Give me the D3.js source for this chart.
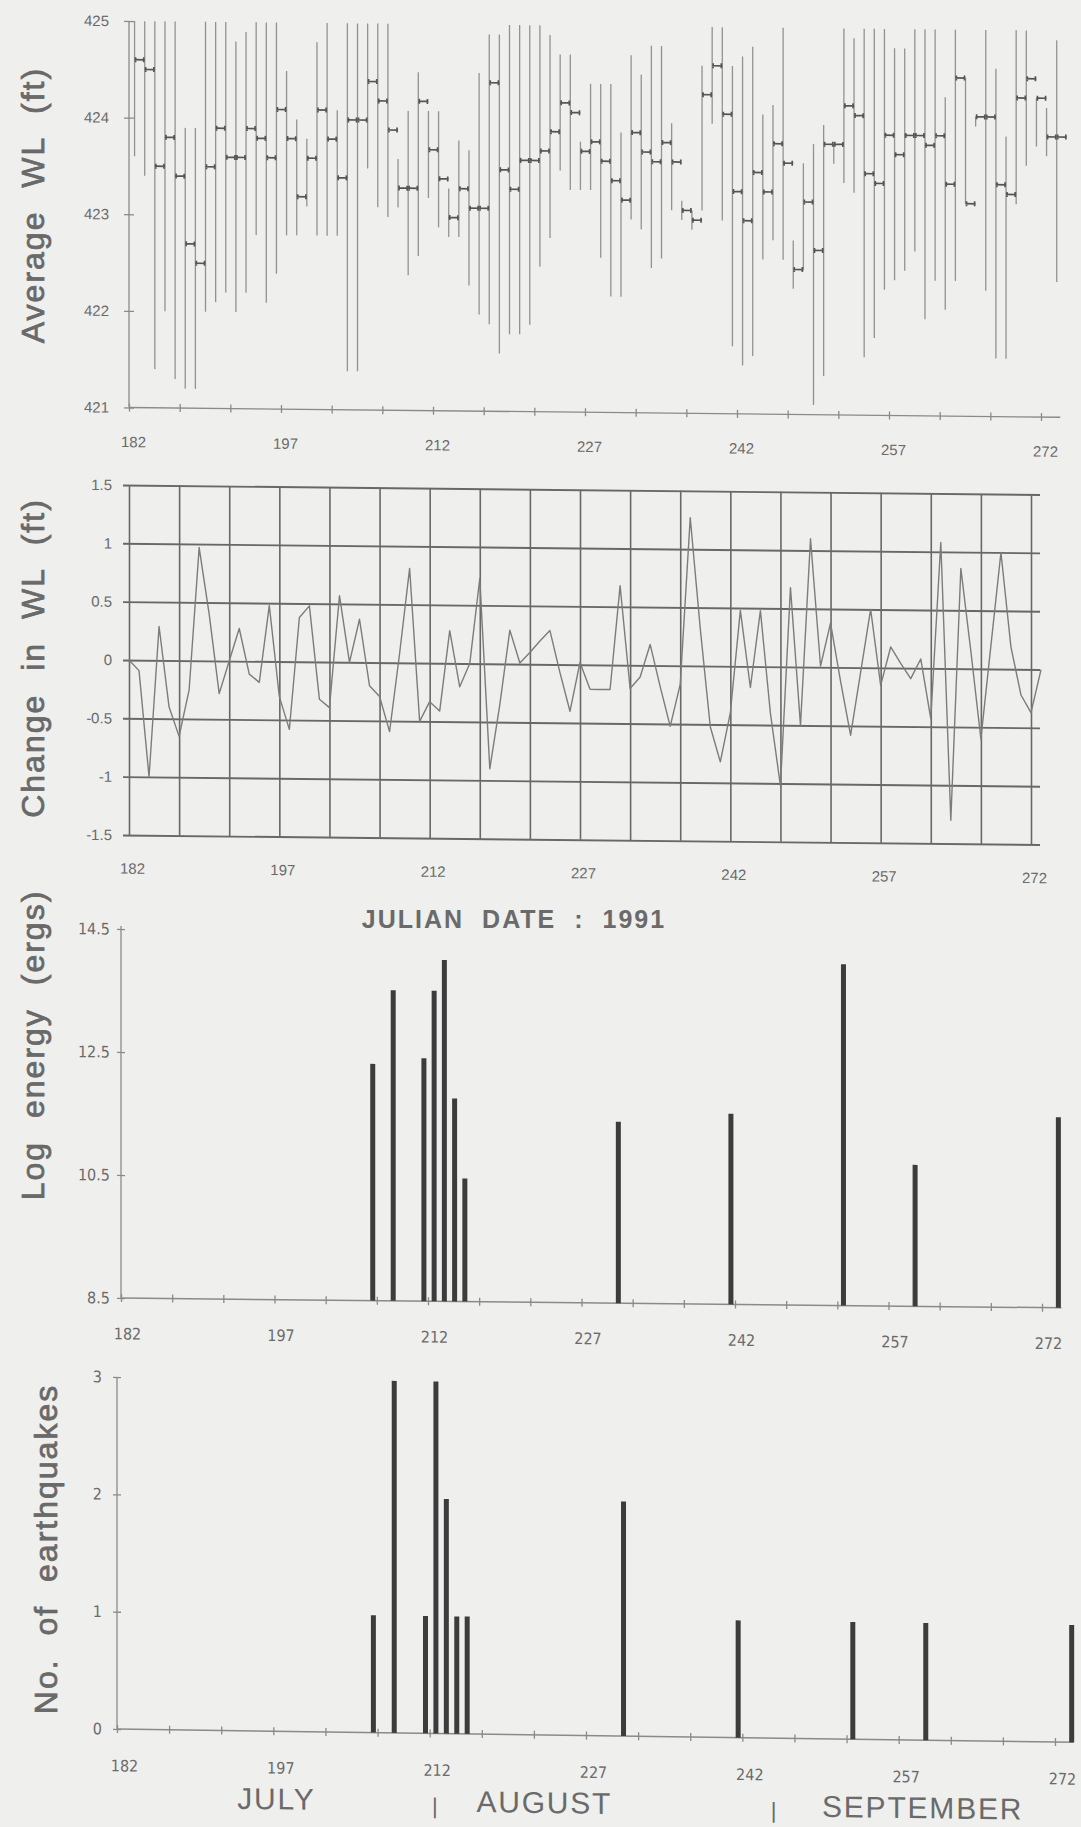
<!DOCTYPE html>
<html>
<head>
<meta charset="utf-8">
<script src="https://cdn.jsdelivr.net/npm/d3@7"></script>
<style>
html, body { margin: 0; padding: 0; background: #efefed; }
svg { display: block; }
text { font-family: "Liberation Sans", Arial, sans-serif; fill: #6a6a6a; }
.narrow { font-family: "Liberation Sans Narrow", "DejaVu Sans Condensed", "Liberation Sans", sans-serif; }
</style>
</head>
<body>
<svg id="chart" width="1081" height="1827"></svg>
<script>
// julian day of the first value in every daily series
const firstDay = 182;

// daily water level (ft): max, min and mean, days 182..273
const wlMax = [425, 425, 425, 425, 425, 423.9, 423.9, 425, 425, 425,
  424.8, 424.9, 425, 425, 425, 424.5, 424.0, 423.8, 424.8, 425,
  424.1, 425, 425, 425, 425, 425, 423.6, 424.1, 424.5, 424.1,
  424.1, 423.3, 423.8, 423.7, 424.5, 424.9, 424.9, 425, 425, 425,
  425, 424.9, 424.7, 424.7, 423.8, 424.4, 424.4, 424.4, 423.9, 424.7,
  424.5, 424.8, 424.8, 424.0, 423.2, 423.1, 424.6, 425, 425, 424.6,
  424.7, 424.8, 424.1, 424.2, 425, 422.8, 423.6, 423.8, 424.0, 423.8,
  425, 424.9, 425, 425, 425, 424.8, 424.8, 425, 425, 425,
  424.3, 425, 424.5, 424.1, 425, 424.6, 423.9, 425, 425, 424.3,
  424.2, 424.9];
const wlMin = [423.6, 423.4, 421.4, 422.0, 421.3, 421.2, 421.2, 422.0, 422.1, 422.2,
  422.0, 422.2, 422.8, 422.1, 422.4, 422.8, 422.8, 423.1, 422.8, 422.8,
  422.8, 421.4, 421.4, 423.5, 423.1, 423.0, 423.1, 422.4, 422.6, 423.2,
  422.9, 422.8, 422.8, 422.3, 422.0, 421.9, 421.6, 421.8, 421.8, 421.9,
  422.5, 422.8, 423.5, 423.3, 423.3, 423.3, 422.6, 422.2, 422.2, 423.0,
  422.9, 422.5, 422.6, 423.1, 423.0, 422.9, 423.1, 424.0, 423.0, 421.7,
  421.5, 421.6, 422.6, 422.8, 422.6, 422.3, 422.5, 421.1, 421.4, 423.6,
  423.4, 423.3, 421.6, 421.8, 422.3, 422.4, 422.5, 422.7, 422.0, 422.4,
  422.1, 422.4, 423.2, 424.0, 422.3, 421.6, 421.6, 423.2, 423.6, 423.8,
  423.7, 422.4];
const wlMean = [424.6, 424.5, 423.5, 423.8, 423.4, 422.7, 422.5, 423.5, 423.9, 423.6,
  423.6, 423.9, 423.8, 423.6, 424.1, 423.8, 423.2, 423.6, 424.1, 423.8,
  423.4, 424.0, 424.0, 424.4, 424.2, 423.9, 423.3, 423.3, 424.2, 423.7,
  423.4, 423.0, 423.3, 423.1, 423.1, 424.4, 423.5, 423.3, 423.6, 423.6,
  423.7, 423.9, 424.2, 424.1, 423.7, 423.8, 423.6, 423.4, 423.2, 423.9,
  423.7, 423.6, 423.8, 423.6, 423.1, 423.0, 424.3, 424.6, 424.1, 423.3,
  423.0, 423.5, 423.3, 423.8, 423.6, 422.5, 423.2, 422.7, 423.8, 423.8,
  424.2, 424.1, 423.5, 423.4, 423.9, 423.7, 423.9, 423.9, 423.8, 423.9,
  423.4, 424.5, 423.2, 424.1, 424.1, 423.4, 423.3, 424.3, 424.5, 424.3,
  423.9, 423.9];

// daily change in water level (ft), days 182..273
const dwl = [0.0, -0.09, -1.0, 0.29, -0.4, -0.65, -0.25, 0.97, 0.4, -0.28,
  0.0, 0.28, -0.11, -0.18, 0.48, -0.3, -0.58, 0.38, 0.48, -0.32,
  -0.39, 0.57, 0.0, 0.37, -0.2, -0.29, -0.59, 0.08, 0.81, -0.5,
  -0.33, -0.41, 0.28, -0.2, 0.0, 0.73, -0.9, -0.35, 0.29, 0.01,
  0.1, 0.2, 0.29, -0.07, -0.4, 0.02, -0.21, -0.21, -0.21, 0.68,
  -0.2, -0.1, 0.18, -0.18, -0.52, -0.16, 1.27, 0.32, -0.52, -0.82,
  -0.4, 0.48, -0.18, 0.48, -0.4, -1.02, 0.68, -0.5, 1.1, 0.01,
  0.38, -0.12, -0.58, -0.04, 0.5, -0.15, 0.18, 0.04, -0.09, 0.08,
  -0.43, 1.08, -1.3, 0.86, 0.15, -0.6, 0.2, 1.0, 0.19, -0.22,
  -0.37, 0.0];

// earthquakes: day, log energy (ergs), number of events
const quakeDay = [206, 208, 211, 212, 213, 214, 215, 230, 241, 252, 259, 273];
const logEnergy = [12.35, 13.55, 12.45, 13.55, 14.05, 11.8, 10.5, 11.45, 11.6, 14.05, 10.8, 11.6];
const quakeCount = [1, 3, 1, 3, 2, 1, 1, 2, 1, 1, 1, 1];

const dayTicks = [182, 187, 192, 197, 202, 207, 212, 217, 222, 227, 232, 237, 242, 247, 252, 257, 262, 267, 272];
const dayLabels = [182, 197, 212, 227, 242, 257, 272];
const wlTicks = [421, 422, 423, 424, 425];
const dwlTicks = [-1.5, -1, -0.5, 0, 0.5, 1, 1.5];
const energyTicks = [8.5, 10.5, 12.5, 14.5];
const countTicks = [0, 1, 2, 3];
const monthNames = ["JULY", "AUGUST", "SEPTEMBER"];
const monthCenters = [197.3, 223, 259.3];
const monthBounds = [212.5, 245];

const svg = d3.select("#chart");
svg.append("rect").attr("width", 1081).attr("height", 1827).attr("fill", "#efefed");

// the scanned page runs slightly downhill to the right
function skewG(angle, x0) {
  const t = Math.tan(angle * Math.PI / 180);
  return svg.append("g").attr("transform", `translate(0,${(-x0 * t).toFixed(2)}) skewY(${angle})`);
}

function dayFormat(d) { return dayLabels.includes(d) ? d : ""; }

function crossX(sel, len) {
  sel.select(".domain").remove();
  sel.selectAll(".tick line").attr("y1", -len).attr("y2", len).attr("stroke", "#8a8a8a").attr("stroke-width", 1.3);
}
function crossY(sel, len) {
  sel.select(".domain").remove();
  sel.selectAll(".tick line").attr("x1", -len).attr("x2", len).attr("stroke", "#8a8a8a").attr("stroke-width", 1.3);
}

function yTitle(label, x, y) {
  svg.append("text")
    .attr("transform", `translate(${x},${y}) rotate(-90)`)
    .attr("text-anchor", "middle")
    .attr("font-size", 32)
    .attr("letter-spacing", 2)
    .attr("word-spacing", 12)
    .attr("fill", "#666")
    .attr("stroke", "#666").attr("stroke-width", 0.7)
    .text(label);
}

// ---------- panel 1 : average water level ----------
const x1 = d3.scaleLinear().domain([182, 272]).range([129, 1041]);
const y1 = d3.scaleLinear().domain([421, 425]).range([407.5, 21]);
const g1 = skewG(0.6, 129);
const wlRows = wlMean.map((m, i) => ({ day: firstDay + i, mean: m, lo: wlMin[i], hi: wlMax[i] }));

g1.append("line").attr("x1", 129).attr("x2", 129).attr("y1", y1(421)).attr("y2", y1(425))
  .attr("stroke", "#8a8a8a").attr("stroke-width", 1.3);
g1.append("line").attr("x1", x1(182)).attr("x2", x1(273.9)).attr("y1", y1(421)).attr("y2", y1(421))
  .attr("stroke", "#8a8a8a").attr("stroke-width", 1.3);

g1.append("g").attr("transform", "translate(129,0)")
  .call(d3.axisLeft(y1).tickValues(wlTicks).tickSize(0).tickPadding(20).tickFormat(d3.format("d")))
  .call(s => crossY(s, 5))
  .selectAll("text").attr("font-size", 15).attr("fill", "#666");

g1.append("g").attr("transform", `translate(0,${y1(421)})`)
  .call(d3.axisBottom(x1).tickValues(dayTicks).tickSize(0).tickPadding(29).tickFormat(dayFormat))
  .call(s => crossX(s, 4))
  .selectAll("text").attr("font-size", 15).attr("dx", 4).attr("fill", "#666");

g1.selectAll("line.range").data(wlRows).join("line").attr("class", "range")
  .attr("x1", d => x1(d.day + 0.55)).attr("x2", d => x1(d.day + 0.55))
  .attr("y1", d => y1(d.hi)).attr("y2", d => y1(d.lo))
  .attr("stroke", "#929292").attr("stroke-width", 1.3);

g1.selectAll("path.mean").data(wlRows).join("path").attr("class", "mean")
  .attr("d", d => {
    const a = x1(d.day + 0.55), b = x1(d.day + 1.55), y = y1(d.mean);
    return `M${a},${y}H${b}M${a + 1},${y - 2.5}V${y + 2.5}M${b - 1},${y - 2.5}V${y + 2.5}`;
  })
  .attr("fill", "none").attr("stroke", "#555").attr("stroke-width", 1.7);

// ---------- panel 2 : change in water level ----------
const x2 = d3.scaleLinear().domain([182, 272]).range([129, 1031]);
const y2 = d3.scaleLinear().domain([-1.5, 1.5]).range([835, 485]);
const g2 = skewG(0.6, 129);
const gl = x2(181.4), gr = x2(272.9);

g2.append("g").attr("transform", `translate(${gl},0)`)
  .call(d3.axisLeft(y2).tickValues(dwlTicks).tickSize(-(gr - gl)).tickPadding(11).tickFormat(d => String(d)))
  .call(s => s.select(".domain").remove())
  .call(s => s.selectAll(".tick line").attr("stroke", "#686868").attr("stroke-width", 1.9))
  .selectAll("text").attr("font-size", 15).attr("fill", "#666");

g2.append("g").attr("transform", `translate(0,${y2(-1.5)})`)
  .call(d3.axisBottom(x2).tickValues(dayTicks).tickSize(-(y2(-1.5) - y2(1.5))).tickPadding(28).tickFormat(dayFormat))
  .call(s => s.select(".domain").remove())
  .call(s => s.selectAll(".tick line").attr("stroke", "#686868").attr("stroke-width", 1.6))
  .selectAll("text").attr("font-size", 15).attr("dx", 3).attr("fill", "#666");

g2.append("path")
  .datum(dwl.map((v, i) => ({ day: firstDay + i, v })))
  .attr("d", d3.line().x(d => x2(d.day)).y(d => y2(d.v)))
  .attr("fill", "none").attr("stroke", "#7c7c7c").attr("stroke-width", 1.4).attr("stroke-linejoin", "round");

svg.append("text")
  .attr("x", 514).attr("y", 928)
  .attr("text-anchor", "middle")
  .attr("font-size", 25).attr("font-weight", "bold")
  .attr("letter-spacing", 2).attr("word-spacing", 9)
  .attr("fill", "#5f5f5f")
  .text("JULIAN DATE : 1991");

// ---------- panel 3 : log energy ----------
const x3 = d3.scaleLinear().domain([182, 272]).range([121, 1042]);
const y3 = d3.scaleLinear().domain([8.5, 14.5]).range([1298, 929]);
const g3 = skewG(0.6, 121);

g3.append("line").attr("x1", 121).attr("x2", 121).attr("y1", y3(8.5)).attr("y2", y3(14.55))
  .attr("stroke", "#8a8a8a").attr("stroke-width", 1.3);
g3.append("line").attr("x1", x3(182)).attr("x2", x3(273.9)).attr("y1", y3(8.5)).attr("y2", y3(8.5))
  .attr("stroke", "#8a8a8a").attr("stroke-width", 1.5);

g3.append("g").attr("transform", "translate(121,0)")
  .call(d3.axisLeft(y3).tickValues(energyTicks).tickSize(0).tickPadding(11).tickFormat(d3.format(".1f")))
  .call(s => crossY(s, 4))
  .selectAll("text").attr("class", "narrow").attr("font-size", 16).attr("fill", "#666");

g3.append("g").attr("transform", `translate(0,${y3(8.5)})`)
  .call(d3.axisBottom(x3).tickValues(dayTicks).tickSize(0).tickPadding(30).tickFormat(dayFormat))
  .call(s => crossX(s, 4))
  .selectAll("text").attr("class", "narrow").attr("font-size", 16).attr("dx", 6).attr("fill", "#666");

g3.selectAll("rect.energy").data(quakeDay.map((d, i) => ({ day: d, v: logEnergy[i] }))).join("rect")
  .attr("class", "energy")
  .attr("x", d => x3(d.day + 0.6) - 2.5).attr("width", 5)
  .attr("y", d => y3(d.v)).attr("height", d => y3(8.5) - y3(d.v))
  .attr("fill", "#3c3c3c");

// ---------- panel 4 : number of earthquakes ----------
const x4 = d3.scaleLinear().domain([182, 272]).range([117, 1055]);
const y4 = d3.scaleLinear().domain([0, 3]).range([1729, 1377]);
const g4 = skewG(0.8, 117);

g4.append("line").attr("x1", 117).attr("x2", 117).attr("y1", y4(0)).attr("y2", y4(3))
  .attr("stroke", "#8a8a8a").attr("stroke-width", 1.3);
g4.append("line").attr("x1", x4(182)).attr("x2", x4(273.8)).attr("y1", y4(0)).attr("y2", y4(0))
  .attr("stroke", "#8a8a8a").attr("stroke-width", 1.5);

g4.append("g").attr("transform", "translate(117,0)")
  .call(d3.axisLeft(y4).tickValues(countTicks).tickSize(0).tickPadding(15).tickFormat(d3.format("d")))
  .call(s => crossY(s, 4))
  .selectAll("text").attr("class", "narrow").attr("font-size", 16).attr("fill", "#666");

g4.append("g").attr("transform", `translate(0,${y4(0)})`)
  .call(d3.axisBottom(x4).tickValues(dayTicks).tickSize(0).tickPadding(31).tickFormat(dayFormat))
  .call(s => crossX(s, 4))
  .selectAll("text").attr("class", "narrow").attr("font-size", 16).attr("dx", 7).attr("fill", "#666");

g4.selectAll("rect.count").data(quakeDay.map((d, i) => ({ day: d, v: quakeCount[i] }))).join("rect")
  .attr("class", "count")
  .attr("x", d => x4(d.day + 0.6) - 2.5).attr("width", 5)
  .attr("y", d => y4(d.v)).attr("height", d => y4(0) - y4(d.v))
  .attr("fill", "#3c3c3c");

g4.selectAll("text.month").data(monthNames).join("text").attr("class", "month")
  .attr("x", (d, i) => x4(monthCenters[i])).attr("y", 1807)
  .attr("text-anchor", "middle").attr("font-size", 30).attr("letter-spacing", 1.8)
  .attr("fill", "#5a5a5a").text(d => d);

g4.selectAll("text.bound").data(monthBounds).join("text").attr("class", "bound")
  .attr("x", d => x4(d)).attr("y", 1809)
  .attr("text-anchor", "middle").attr("font-size", 22)
  .attr("fill", "#5a5a5a").text("|");

// ---------- axis titles ----------
yTitle("Average WL (ft)", 44, 205);
yTitle("Change in WL (ft)", 44, 658);
yTitle("Log energy (ergs)", 44, 1045);
yTitle("No. of earthquakes", 57, 1549);
</script>
</body>
</html>
